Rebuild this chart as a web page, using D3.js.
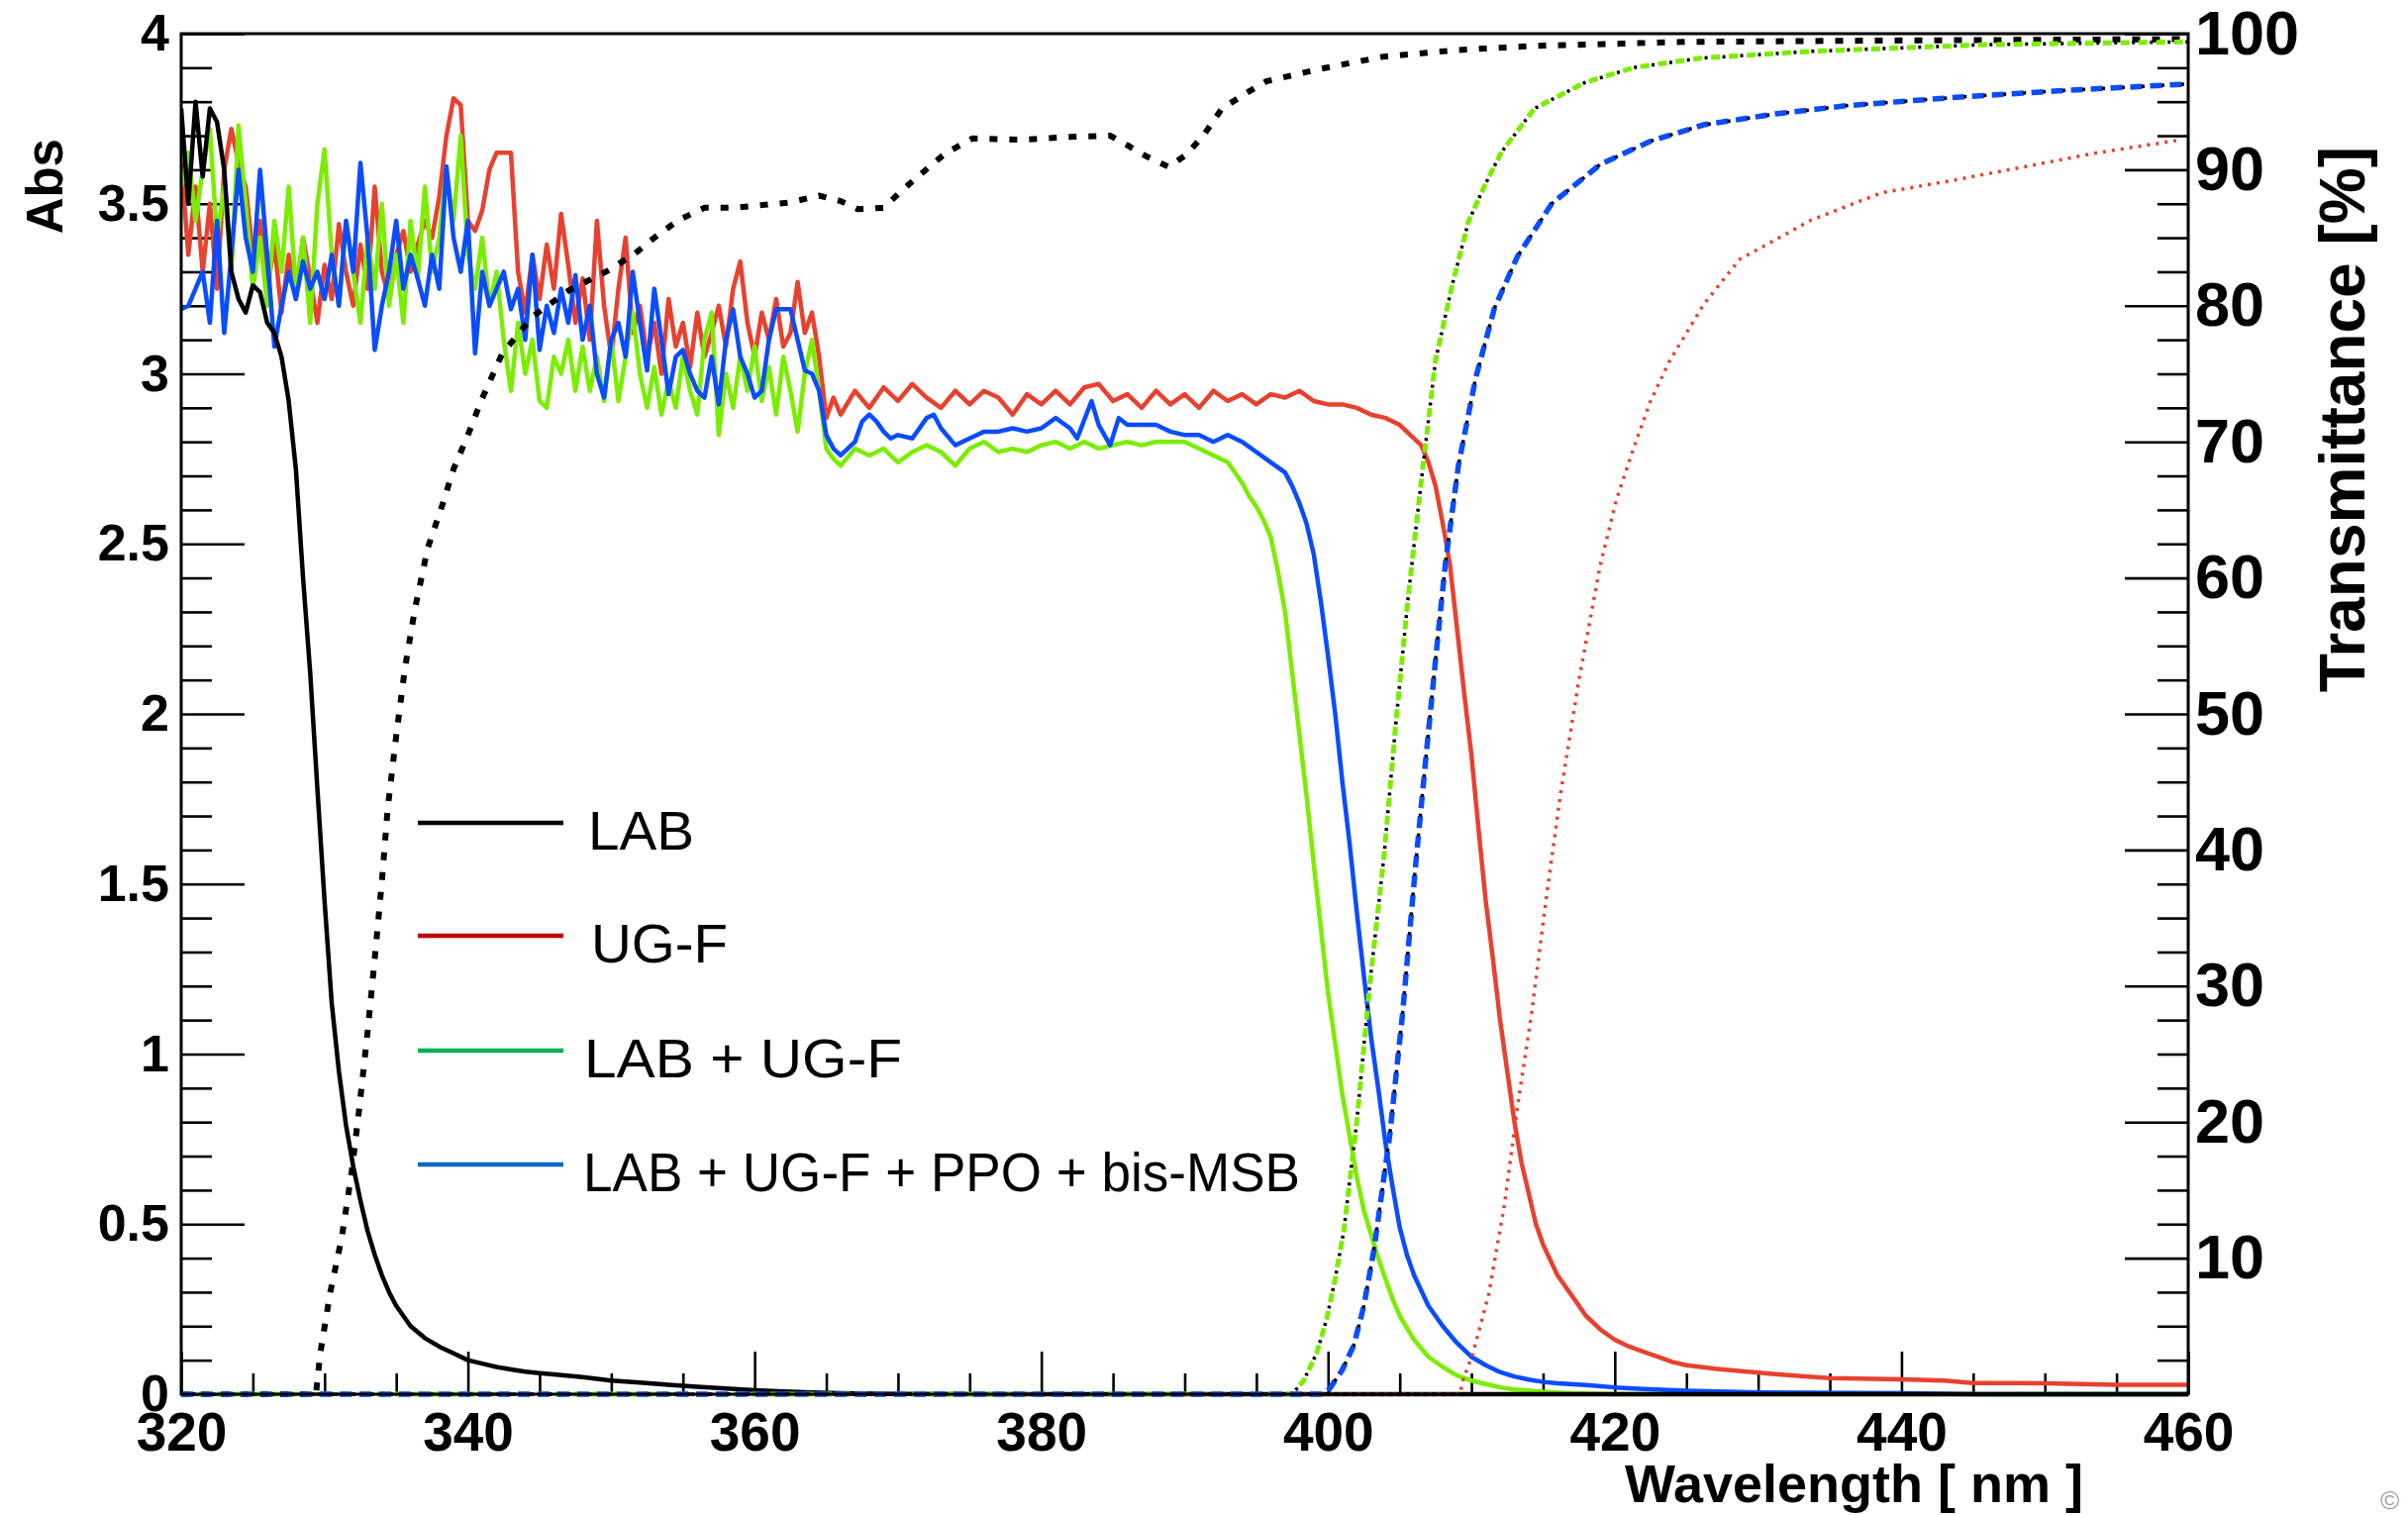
<!DOCTYPE html>
<html>
<head>
<meta charset="utf-8">
<title>Abs / Transmittance</title>
<script src="https://cdn.jsdelivr.net/npm/d3@7/dist/d3.min.js"></script>
<style>
  html, body { margin: 0; padding: 0; background: #ffffff; }
  svg { display: block; }
  text { font-family: "Liberation Sans", Arial, Helvetica, sans-serif; fill: #000; }
</style>
</head>
<body>
<svg id="chart" width="2432" height="1530"></svg>
<script>
// wavelength grid of the noisy part (0.5 nm bins)
var noiseWl = d3.range(320, 366.01, 0.5);

// absorbance, UG-F (red)
var ugfNoise = [3.62, 3.35, 3.55, 3.30, 3.50, 3.25, 3.60, 3.72, 3.62, 3.55,
  3.35, 3.45, 3.25, 3.38, 3.18, 3.35, 3.22, 3.40, 3.28, 3.15,
  3.32, 3.22, 3.44, 3.30, 3.20, 3.38, 3.25, 3.55, 3.30, 3.22,
  3.35, 3.42, 3.30, 3.38, 3.45, 3.40, 3.52, 3.70, 3.81, 3.79,
  3.45, 3.42, 3.48, 3.60, 3.65, 3.65, 3.65, 3.30, 3.18, 3.35,
  3.22, 3.38, 3.25, 3.47, 3.32, 3.15, 3.28, 3.10, 3.45, 3.20,
  3.05, 3.25, 3.40, 3.12, 3.20, 3.05, 3.15, 3.00, 3.22, 3.08,
  3.15, 3.02, 3.18, 3.05, 3.12, 3.20, 3.08, 3.25, 3.33, 3.15,
  3.05, 3.18, 3.10, 3.22, 3.08, 3.12, 3.27, 3.12, 3.18, 3.05,
  2.87, 2.93, 2.88];
var ugfTailWl = [367, 368, 369, 370, 371, 372, 373, 374, 375, 376, 377, 378, 379, 380, 381, 382, 383, 384, 385, 386,
  387, 388, 389, 390, 391, 392, 393, 394, 395, 396, 397, 398, 399, 400, 401, 402, 403, 404, 405, 406,
  406.5, 407, 407.5, 408, 408.5, 409, 409.5, 410, 410.5, 411, 411.5, 412, 412.5, 413, 413.5, 414, 414.5, 415,
  416, 417, 418, 419, 420, 421, 422, 423, 424, 425, 427, 429, 431, 433, 435, 440, 443, 445, 450, 455, 460];
var ugfTail = [2.95, 2.90, 2.96, 2.92, 2.97, 2.93, 2.90, 2.95, 2.91, 2.95, 2.93, 2.88, 2.94, 2.91, 2.95, 2.91, 2.96, 2.97, 2.92, 2.94,
  2.90, 2.95, 2.91, 2.94, 2.90, 2.95, 2.92, 2.94, 2.91, 2.94, 2.93, 2.95, 2.92, 2.91, 2.91, 2.90, 2.88, 2.87, 2.85, 2.81,
  2.79, 2.74, 2.67, 2.56, 2.44, 2.25, 2.06, 1.88, 1.66, 1.45, 1.28, 1.10, 0.95, 0.80, 0.68, 0.59, 0.50, 0.44,
  0.35, 0.29, 0.23, 0.19, 0.16, 0.14, 0.125, 0.11, 0.095, 0.085, 0.075, 0.067, 0.06, 0.053, 0.047, 0.044, 0.04, 0.033, 0.032, 0.028, 0.028];

// absorbance, LAB + UG-F (green)
var labUgfNoise = [3.55, 3.65, 3.45, 3.60, 3.72, 3.40, 3.55, 3.30, 3.73, 3.50,
  3.25, 3.40, 3.20, 3.45, 3.30, 3.55, 3.25, 3.40, 3.15, 3.50,
  3.66, 3.35, 3.20, 3.45, 3.30, 3.15, 3.40, 3.25, 3.50, 3.20,
  3.35, 3.15, 3.45, 3.28, 3.55, 3.30, 3.40, 3.60, 3.45, 3.70,
  3.35, 3.25, 3.40, 3.20, 3.30, 3.10, 2.95, 3.15, 3.00, 3.10,
  2.92, 2.90, 3.05, 3.00, 3.10, 2.95, 3.08, 2.95, 3.05, 2.92,
  3.10, 2.92, 3.05, 3.18, 3.00, 2.90, 3.02, 2.88, 2.98, 2.90,
  3.05, 2.95, 2.88, 3.10, 3.18, 2.82, 3.00, 2.90, 3.05, 2.95,
  3.08, 2.92, 3.02, 2.88, 3.05, 2.95, 2.83, 3.00, 3.10, 2.95,
  2.78, 2.75, 2.73];
var labUgfTailWl = [367, 368, 369, 370, 371, 372, 373, 374, 375, 376, 377, 378, 379, 380, 381, 382, 383, 384, 385, 386,
  387, 388, 389, 390, 391, 392, 393, 394, 394.5, 395, 395.5, 396, 396.5, 397, 397.5, 398, 398.5, 399, 399.5, 400,
  400.5, 401, 401.5, 402, 402.5, 403, 403.5, 404, 404.5, 405, 406, 407, 408, 409, 410, 411, 412, 413, 415, 417, 420, 460];
var labUgfTail = [2.78, 2.76, 2.78, 2.74, 2.77, 2.79, 2.77, 2.73, 2.78, 2.80, 2.77, 2.78, 2.77, 2.79, 2.80, 2.78, 2.80, 2.78, 2.79, 2.80,
  2.79, 2.80, 2.80, 2.80, 2.78, 2.76, 2.74, 2.68, 2.64, 2.61, 2.57, 2.52, 2.42, 2.30, 2.12, 1.94, 1.76, 1.56, 1.37, 1.18,
  1.03, 0.88, 0.76, 0.64, 0.54, 0.47, 0.40, 0.34, 0.28, 0.23, 0.16, 0.11, 0.08, 0.055, 0.04, 0.03, 0.02, 0.014, 0.007, 0.003, 0, 0];

// absorbance, LAB + UG-F + PPO + bis-MSB (blue)
var fullNoise = [3.19, 3.20, 3.25, 3.30, 3.15, 3.45, 3.12, 3.35, 3.60, 3.40,
  3.30, 3.60, 3.35, 3.08, 3.20, 3.30, 3.22, 3.33, 3.25, 3.30,
  3.22, 3.35, 3.20, 3.45, 3.30, 3.62, 3.40, 3.07, 3.20, 3.30,
  3.45, 3.25, 3.35, 3.28, 3.20, 3.35, 3.25, 3.61, 3.40, 3.30,
  3.45, 3.06, 3.30, 3.20, 3.25, 3.30, 3.19, 3.25, 3.10, 3.35,
  3.07, 3.20, 3.12, 3.25, 3.15, 3.29, 3.10, 3.20, 3.00, 2.93,
  3.10, 3.15, 3.05, 3.30, 3.15, 3.01, 3.25, 3.10, 2.94, 3.05,
  3.07, 3.00, 2.95, 2.93, 3.05, 2.91, 3.10, 3.19, 3.05, 3.00,
  2.93, 2.95, 3.10, 3.19, 3.19, 3.19, 3.10, 3.01, 3.00, 2.95,
  2.82, 2.78, 2.76];
var fullTailWl = [367, 367.5, 368, 368.5, 369, 369.5, 370, 371, 372, 372.5, 373, 374, 375, 376, 377, 378, 379, 380, 381, 382,
  382.5, 383.5, 384, 384.8, 385.4, 386, 387, 388, 389, 390, 391, 392, 393, 394, 395, 396, 397, 397.5, 398, 398.5,
  399, 399.5, 400, 400.5, 401, 401.5, 402, 402.5, 403, 403.5, 404, 404.5, 405, 405.5, 406, 407, 408, 409, 410, 411,
  412, 413, 414, 415, 416, 418, 420, 422, 425, 430, 440, 445, 460];
var fullTail = [2.80, 2.86, 2.88, 2.86, 2.83, 2.81, 2.82, 2.81, 2.87, 2.88, 2.84, 2.79, 2.81, 2.83, 2.83, 2.84, 2.83, 2.84, 2.87, 2.84,
  2.81, 2.92, 2.85, 2.79, 2.87, 2.85, 2.85, 2.85, 2.83, 2.82, 2.82, 2.80, 2.82, 2.80, 2.77, 2.74, 2.71, 2.67, 2.62, 2.56,
  2.47, 2.33, 2.17, 2.00, 1.80, 1.62, 1.42, 1.23, 1.05, 0.90, 0.74, 0.61, 0.49, 0.41, 0.35, 0.26, 0.20, 0.15, 0.11, 0.085,
  0.065, 0.052, 0.043, 0.036, 0.032, 0.027, 0.02, 0.015, 0.01, 0.005, 0.003, 0, 0];

// absorbance, LAB (black)
var labWl = [320, 320.5, 321, 321.5, 322, 322.5, 323, 323.5, 324, 324.5, 325, 325.5, 326, 326.5, 327, 327.5, 328, 328.5, 329, 329.5,
  330, 330.5, 331, 331.5, 332, 332.5, 333, 333.5, 334, 334.5, 335, 336, 337, 338, 339, 340, 341, 342, 343, 344,
  345, 346, 348, 350, 352, 354, 356, 358, 360, 362, 364, 366, 370, 380, 460];
var labAbs = [3.78, 3.50, 3.80, 3.58, 3.78, 3.74, 3.60, 3.30, 3.22, 3.18, 3.26, 3.24, 3.15, 3.12, 3.05, 2.92, 2.72, 2.40, 2.12, 1.78,
  1.45, 1.15, 0.95, 0.79, 0.67, 0.57, 0.48, 0.41, 0.35, 0.30, 0.26, 0.20, 0.165, 0.14, 0.12, 0.10, 0.09, 0.08, 0.073, 0.066,
  0.062, 0.058, 0.05, 0.04, 0.034, 0.028, 0.022, 0.017, 0.012, 0.008, 0.005, 0.003, 0.001, 0, 0];

// transmittance [%]
var labTWl = [320, 329.4, 329.7, 330.4, 331.2, 331.9, 332.4, 333, 333.5, 334, 334.4, 335, 335.6, 336.3, 337.2, 338.2, 339, 340, 341, 342.4,
  344.5, 347, 349.8, 351.6, 353, 354.7, 356.5, 358.5, 360.5, 362.5, 364.5, 366, 367.2, 369, 370.2, 371.5, 373.3, 375.2, 378.6, 381.7,
  384.8, 386, 387.3, 388.9, 390.1, 391.3, 392.6, 394.4, 395.7, 399.4, 403.8, 409, 414.5, 425, 440, 460];
var labT = [0, 0, 3, 7.5, 11.5, 16.4, 20.8, 26.6, 32, 37.7, 43, 48.4, 53.3, 57.7, 62.2, 65.3, 68, 70.5, 73.2, 76.5,
  79.2, 81.1, 82.6, 83.8, 85, 86.3, 87.2, 87.2, 87.4, 87.6, 88.1, 87.7, 87.1, 87.2, 88.4, 89.6, 91.2, 92.3, 92.2, 92.4,
  92.5, 91.8, 91, 90.2, 91.1, 92.5, 94.5, 95.7, 96.5, 97.4, 98.3, 98.8, 99.1, 99.4, 99.5, 99.6];
var ugfTWl = [320, 409.2, 409.4, 410.1, 411.2, 412.3, 413.2, 414.2, 415.1, 416.2, 417.5, 419, 420.1, 421.3, 422.5, 423.8,
  426.2, 428.7, 433.7, 438.6, 443.5, 448.5, 453.4, 458.3, 459.5];
var ugfT = [0, 0, 1, 3, 7.3, 13.9, 21, 28, 35.5, 44, 52.5, 61, 65.7, 69.5, 73, 75.9,
  80.1, 83.4, 86.3, 88.3, 89.2, 90.2, 91.2, 92, 92.2];
var labUgfTWl = [320, 397.5, 398.3, 399.2, 399.9, 400.5, 401.1, 402, 402.9, 403.9, 404.7, 405.6, 406.6, 407.5, 408.7, 409.8,
  411, 412.1, 414.4, 417.9, 421.3, 426, 433.7, 446, 460];
var labUgfT = [0, 0, 1, 3, 5.5, 8.5, 12, 20, 30, 39.5, 49, 58.7, 68, 76, 81.7, 86.2,
  89, 91.3, 94.5, 96.4, 97.5, 98.2, 98.7, 99.2, 99.4];
var fullTWl = [320, 399.8, 400.1, 401, 401.8, 402.5, 403.2, 404.3, 405.2, 406.1, 406.8, 407.5, 408.2, 409.1, 410.3, 411.6,
  413.2, 415.6, 419, 422.5, 426.2, 431.2, 436.1, 443.5, 450.9, 460];
var fullT = [0, 0, 0.4, 1.8, 3.6, 6.5, 10.6, 19, 28, 38.8, 46.5, 54, 61.2, 68.3, 74.7, 79.8,
  83.6, 87.5, 90.4, 92.1, 93.3, 94.1, 94.7, 95.3, 95.8, 96.3];

// axes
var wlTicks = [320, 340, 360, 380, 400, 420, 440, 460];
var wlTickLabels = ['320', '340', '360', '380', '400', '420', '440', '460'];
var absTicks = [0, 0.5, 1, 1.5, 2, 2.5, 3, 3.5, 4];
var absTickLabels = ['0', '0.5', '1', '1.5', '2', '2.5', '3', '3.5', '4'];
var tTicks = [10, 20, 30, 40, 50, 60, 70, 80, 90, 100];
var tTickLabels = ['10', '20', '30', '40', '50', '60', '70', '80', '90', '100'];

var legendLabels = ['LAB', 'UG-F', 'LAB + UG-F', 'LAB + UG-F + PPO + bis-MSB'];
var legendColors = ['#000000', '#c00000', '#00b050', '#0066cc'];

(function() {
  var svg, x, yAbs, yT, absLine, tLine, plot, legend;
  var L = 183, R = 2210, T = 34, B = 1408;

  svg = d3.select('#chart');
  svg.append('rect').attr('width', 2432).attr('height', 1530).attr('fill', '#fff');

  x = d3.scaleLinear().domain([320, 460]).range([L, R]);
  yAbs = d3.scaleLinear().domain([0, 4]).range([B, T]);
  yT = d3.scaleLinear().domain([0, 100]).range([B, T]);

  function pairs(wl, vals) {
    return wl.map(function(w, i) { return [w, vals[i]]; });
  }

  function styleAxis(size) {
    return function(g) {
      g.select('.domain').remove();
      g.attr('font-size', size)
        .attr('font-family', '"Liberation Sans", Arial, Helvetica, sans-serif')
        .attr('font-weight', 'bold');
      g.selectAll('.tick line').attr('stroke', '#000').attr('stroke-width', 2.6);
    };
  }

  function blank() { return ''; }

  // minor ticks
  svg.append('g').attr('transform', 'translate(' + L + ',0)')
    .call(d3.axisLeft(yAbs).tickValues(d3.range(0, 4.001, 0.1).filter(function(v) {
      return Math.abs(v * 2 - Math.round(v * 2)) > 1e-6;
    })).tickSize(-31).tickFormat(blank)).call(styleAxis(10));
  svg.append('g').attr('transform', 'translate(' + R + ',0)')
    .call(d3.axisRight(yT).tickValues(d3.range(2.5, 100, 2.5).filter(function(v) {
      return v % 10 !== 0;
    })).tickSize(-31).tickFormat(blank)).call(styleAxis(10));
  svg.append('g').attr('transform', 'translate(0,' + B + ')')
    .call(d3.axisBottom(x).tickValues(d3.range(325, 460, 5).filter(function(v) {
      return v % 20 !== 0;
    })).tickSize(-21).tickFormat(blank)).call(styleAxis(10));

  // major ticks and labels
  svg.append('g').attr('transform', 'translate(' + L + ',0)')
    .call(d3.axisLeft(yAbs).tickValues(absTicks).tickSize(-64).tickPadding(12)
      .tickFormat(function(d, i) { return absTickLabels[i]; })).call(styleAxis(52));
  svg.append('g').attr('transform', 'translate(' + R + ',0)')
    .call(d3.axisRight(yT).tickValues(tTicks).tickSize(-64).tickPadding(7)
      .tickFormat(function(d, i) { return tTickLabels[i]; })).call(styleAxis(63));
  svg.append('g').attr('transform', 'translate(0,' + B + ')')
    .call(d3.axisBottom(x).tickValues(wlTicks).tickSize(-43).tickPadding(18)
      .tickFormat(function(d, i) { return wlTickLabels[i]; })).call(styleAxis(55));

  // curves
  svg.append('clipPath').attr('id', 'clip').append('rect')
    .attr('x', L).attr('y', T - 4).attr('width', R - L).attr('height', B - T + 8);
  plot = svg.append('g').attr('clip-path', 'url(#clip)');

  absLine = d3.line().x(function(d) { return x(d[0]); }).y(function(d) { return yAbs(d[1]); });
  tLine = d3.line().x(function(d) { return x(d[0]); }).y(function(d) { return yT(d[1]); });

  var absSeries = [
    { color: '#e8412f', pts: pairs(noiseWl, ugfNoise).concat(pairs(ugfTailWl, ugfTail)) },
    { color: '#7ced00', pts: pairs(noiseWl, labUgfNoise).concat(pairs(labUgfTailWl, labUgfTail)) },
    { color: '#0a4cff', pts: pairs(noiseWl, fullNoise).concat(pairs(fullTailWl, fullTail)) },
    { color: '#000000', pts: pairs(labWl, labAbs) }
  ];
  plot.selectAll('.abs').data(absSeries).enter().append('path')
    .attr('class', 'abs')
    .attr('d', function(d) { return absLine(d.pts); })
    .attr('fill', 'none')
    .attr('stroke', function(d) { return d.color; })
    .attr('stroke-width', 4.5)
    .attr('stroke-linejoin', 'round');

  // transmittance: dashed lines, green/blue with small black markers in the gaps
  var tSeries = [
    { pts: pairs(labTWl, labT), color: '#000000', width: 6, dash: '8 12', dots: false },
    { pts: pairs(ugfTWl, ugfT), color: '#e8412f', width: 3.5, dash: '3 6', dots: false },
    { pts: pairs(labUgfTWl, labUgfT), color: '#7ced00', width: 5, dash: '9 9', dots: '3 15' },
    { pts: pairs(fullTWl, fullT), color: '#0a4cff', width: 5.5, dash: '12 8', dots: '3 17' }
  ];
  tSeries.forEach(function(s) {
    plot.append('path')
      .attr('d', tLine(s.pts))
      .attr('fill', 'none')
      .attr('stroke', s.color)
      .attr('stroke-width', s.width)
      .attr('stroke-dasharray', s.dash);
    if (s.dots) {
      plot.append('path')
        .attr('d', tLine(s.pts))
        .attr('fill', 'none')
        .attr('stroke', '#000')
        .attr('stroke-width', 3.5)
        .attr('stroke-dasharray', s.dots)
        .attr('stroke-dashoffset', -11.5);
    }
  });

  // frame
  svg.append('rect').attr('x', L).attr('y', T).attr('width', R - L).attr('height', B - T)
    .attr('fill', 'none').attr('stroke', '#000').attr('stroke-width', 3);

  // axis titles
  svg.append('text').attr('transform', 'translate(63,140) rotate(-90)')
    .attr('text-anchor', 'end').attr('font-size', 51).attr('font-weight', 'bold').text('Abs');
  svg.append('text').attr('transform', 'translate(2388,148) rotate(-90)')
    .attr('text-anchor', 'end').attr('font-size', 64).attr('font-weight', 'bold').text('Transmittance [%]');
  svg.append('text').attr('x', 2104).attr('y', 1517)
    .attr('text-anchor', 'end').attr('font-size', 54).attr('font-weight', 'bold').text('Wavelength [ nm ]');

  // legend
  var legY = [831, 945, 1061, 1176];
  var legTextX = [594, 597, 590, 589];
  var legTextLen = [107, 138, 321, 724];
  legend = svg.append('g');
  legend.selectAll('line').data(legendLabels).enter().append('line')
    .attr('x1', 422).attr('x2', 569)
    .attr('y1', function(d, i) { return legY[i]; })
    .attr('y2', function(d, i) { return legY[i]; })
    .attr('stroke', function(d, i) { return legendColors[i]; })
    .attr('stroke-width', 4.5);
  legend.selectAll('text').data(legendLabels).enter().append('text')
    .attr('x', function(d, i) { return legTextX[i]; })
    .attr('y', function(d, i) { return legY[i] + 27; })
    .attr('font-size', 56)
    .attr('textLength', function(d, i) { return legTextLen[i]; })
    .attr('lengthAdjust', 'spacingAndGlyphs')
    .text(function(d) { return d; });

  // faint mark in the bottom-right corner
  svg.append('text').attr('x', 2404).attr('y', 1524).attr('font-size', 26)
    .style('fill', '#a0a0a0').text('\u00a9');
})();
</script>
</body>
</html>
